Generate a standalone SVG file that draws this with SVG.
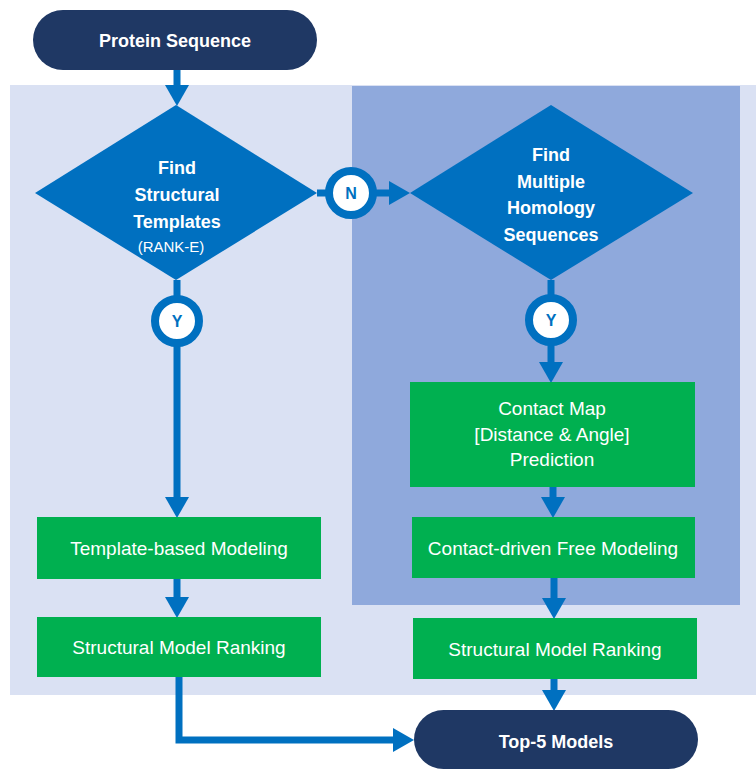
<svg xmlns="http://www.w3.org/2000/svg" width="756" height="769" viewBox="0 0 756 769">
  <style>
    .pill { fill: #1F3864; }
    .diamond { fill: #0070C0; }
    .box { fill: #00B050; }
    .title { font-family: "Liberation Sans", Arial, sans-serif; font-weight: bold; font-size: 18px; fill: #FFFFFF; text-anchor: middle; }
    .label { font-family: "Liberation Sans", Arial, sans-serif; font-size: 19px; fill: #FFFFFF; text-anchor: middle; }
    .small { font-family: "Liberation Sans", Arial, sans-serif; font-size: 15px; fill: #FFFFFF; text-anchor: middle; }
    .flow { fill: none; stroke: #0070C0; stroke-width: 7; }
    .badge circle { fill: #FFFFFF; stroke: #0070C0; stroke-width: 8; }
    .badge text { font-family: "Liberation Sans", Arial, sans-serif; font-weight: bold; font-size: 16px; fill: #0070C0; text-anchor: middle; }
  </style>
  <defs>
    <marker id="head" markerUnits="userSpaceOnUse" markerWidth="22" markerHeight="24" refX="0" refY="12" orient="auto">
      <path d="M0,0 L21,12 L0,24 Z" fill="#0070C0"/>
    </marker>
  </defs>

  <!-- background panels -->
  <rect x="10" y="85" width="746" height="610" fill="#DAE1F3"/>
  <rect x="352" y="86" width="388" height="519" fill="#8FA9DC"/>

  <!-- connectors -->
  <g id="connectors">
    <line class="flow" x1="177" y1="70" x2="177" y2="85" marker-end="url(#head)"/>
    <line class="flow" x1="177" y1="280" x2="177" y2="497" marker-end="url(#head)"/>
    <line class="flow" x1="177" y1="579" x2="177" y2="597" marker-end="url(#head)"/>
    <polyline class="flow" points="179,677 179,740 393,740" marker-end="url(#head)"/>
    <line class="flow" x1="317" y1="193" x2="389" y2="193" marker-end="url(#head)"/>
    <line class="flow" x1="551" y1="280" x2="551" y2="362" marker-end="url(#head)"/>
    <line class="flow" x1="553" y1="487" x2="553" y2="497" marker-end="url(#head)"/>
    <line class="flow" x1="554" y1="578" x2="554" y2="598" marker-end="url(#head)"/>
    <line class="flow" x1="554" y1="679" x2="554" y2="690" marker-end="url(#head)"/>
  </g>

  <!-- start terminal -->
  <g id="protein-sequence">
    <rect class="pill" x="33" y="10" width="284" height="60" rx="30"/>
    <text class="title" x="175" y="47">Protein Sequence</text>
  </g>

  <!-- decision: structural templates -->
  <g id="find-templates">
    <polygon class="diamond" points="176,105 317,193 176,280 35,193"/>
    <text class="title" x="177" y="174">Find</text>
    <text class="title" x="177" y="201">Structural</text>
    <text class="title" x="177" y="228">Templates</text>
    <text class="small" x="171" y="252">(RANK-E)</text>
  </g>

  <!-- decision: homology sequences -->
  <g id="find-homology">
    <polygon class="diamond" points="551,105 693,193 551,280 410,193"/>
    <text class="title" x="551" y="161">Find</text>
    <text class="title" x="551" y="188">Multiple</text>
    <text class="title" x="551" y="214">Homology</text>
    <text class="title" x="551" y="241">Sequences</text>
  </g>

  <!-- branch badges -->
  <g id="badge-n" class="badge">
    <circle cx="351" cy="193" r="22"/>
    <text x="351" y="199">N</text>
  </g>
  <g id="badge-y-left" class="badge">
    <circle cx="177" cy="321" r="22"/>
    <text x="177" y="327">Y</text>
  </g>
  <g id="badge-y-right" class="badge">
    <circle cx="551" cy="320" r="22"/>
    <text x="551" y="326">Y</text>
  </g>

  <!-- template branch -->
  <g id="template-modeling">
    <rect class="box" x="37" y="517" width="284" height="62"/>
    <text class="label" x="179" y="555">Template-based Modeling</text>
  </g>
  <g id="ranking-left">
    <rect class="box" x="37" y="617" width="284" height="60"/>
    <text class="label" x="179" y="654">Structural Model Ranking</text>
  </g>

  <!-- free modeling branch -->
  <g id="contact-map">
    <rect class="box" x="410" y="382" width="285" height="105"/>
    <text class="label" x="552" y="415">Contact Map</text>
    <text class="label" x="552" y="441">[Distance &amp; Angle]</text>
    <text class="label" x="552" y="466">Prediction</text>
  </g>
  <g id="free-modeling">
    <rect class="box" x="412" y="517" width="283" height="61"/>
    <text class="label" x="553" y="555">Contact-driven Free Modeling</text>
  </g>
  <g id="ranking-right">
    <rect class="box" x="413" y="618" width="284" height="61"/>
    <text class="label" x="555" y="656">Structural Model Ranking</text>
  </g>

  <!-- end terminal -->
  <g id="top-models">
    <rect class="pill" x="414" y="710" width="284" height="59" rx="29.5"/>
    <text class="title" x="556" y="748">Top-5 Models</text>
  </g>
</svg>
